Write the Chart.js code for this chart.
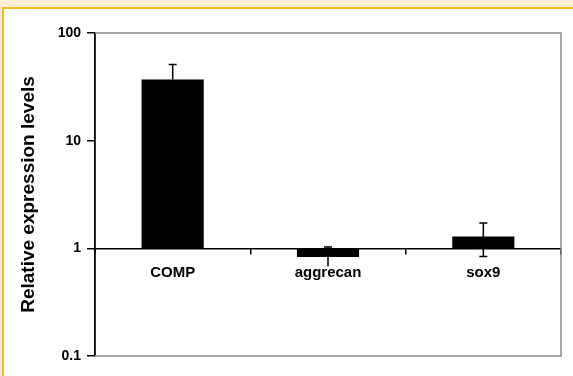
<!DOCTYPE html>
<html>
<head>
<meta charset="utf-8">
<script src="https://cdn.jsdelivr.net/npm/chart.js@4.4.1/dist/chart.umd.min.js"></script>
<style>
  html, body { margin: 0; padding: 0; }
  body { width: 573px; height: 376px; background: #fcefd4; position: relative; overflow: hidden; }
  #frame { position: absolute; left: 2px; top: 7px; width: 571px; height: 369px;
           border-top: 2px solid #f4bd1c; border-left: 2px solid #f4bd1c; background: #fff; }
  #chart { position: absolute; left: 0; top: 0; }
</style>
</head>
<body>
<div id="frame"></div>
<canvas id="chart" width="573" height="376"></canvas>
<script>
// Gene names along the x axis
const genes = ['COMP', 'aggrecan', 'sox9'];
// Mean relative expression (bars start at 1)
const expression = [37, 0.83, 1.29];
// Error bar ends
const errorLow = [37, 0.68, 0.84];
const errorHigh = [51, 1.03, 1.72];
// Y axis ticks (log scale)
const yTicks = [0.1, 1, 10, 100];

const fontFamily = '"Liberation Sans", Arial, sans-serif';

// Gray frame round the plot area (top, right, bottom)
const framePlugin = {
  id: 'frame',
  beforeDatasetsDraw(chart) {
    const { ctx, chartArea: a } = chart;
    ctx.save();
    ctx.strokeStyle = '#8c8c8c';
    ctx.lineWidth = 1.5;
    ctx.beginPath();
    ctx.moveTo(a.left, a.top);
    ctx.lineTo(a.right, a.top);
    ctx.lineTo(a.right, a.bottom);
    ctx.lineTo(a.left, a.bottom);
    ctx.stroke();
    ctx.restore();
  }
};

// Error bars drawn from the arrays through the y scale
const errorBarPlugin = {
  id: 'errorBars',
  afterDatasetsDraw(chart) {
    const { ctx } = chart;
    const y = chart.scales.y;
    const meta = chart.getDatasetMeta(0);
    ctx.save();
    ctx.strokeStyle = '#000';
    ctx.lineWidth = 1.5;
    meta.data.forEach((bar, i) => {
      const x = bar.x;
      const yLo = y.getPixelForValue(errorLow[i]);
      const yHi = y.getPixelForValue(errorHigh[i]);
      ctx.beginPath();
      ctx.moveTo(x, yLo);
      ctx.lineTo(x, yHi);
      ctx.moveTo(x - 4, yHi);
      ctx.lineTo(x + 4, yHi);
      if (errorLow[i] !== expression[i] && i !== 1) {
        ctx.moveTo(x - 4, yLo);
        ctx.lineTo(x + 4, yLo);
      }
      ctx.stroke();
    });
    ctx.restore();
  }
};

new Chart(document.getElementById('chart'), {
  type: 'bar',
  data: {
    labels: genes,
    datasets: [{
      data: expression.map(v => [1, v]),
      backgroundColor: '#000',
      borderWidth: 0,
      barPercentage: 0.4,
      categoryPercentage: 1
    }]
  },
  options: {
    responsive: false,
    animation: false,
    layout: { padding: { top: 33, bottom: 20, right: 12, left: 0 } },
    plugins: {
      legend: { display: false },
      tooltip: { enabled: false }
    },
    scales: {
      x: {
        type: 'category',
        position: { y: 1 },
        offset: true,
        grid: { drawOnChartArea: false, drawTicks: true, tickLength: 5, color: '#000', offset: true, lineWidth: 1.5 },
        border: { color: '#000', width: 1.5 },
        ticks: { color: '#000', font: { family: fontFamily, size: 15, weight: 'bold' }, padding: 11 }
      },
      y: {
        type: 'logarithmic',
        min: 0.1,
        max: 100,
        afterBuildTicks: s => { s.ticks = yTicks.map(v => ({ value: v })); },
        afterFit: s => { s.width = 95; },
        grid: { drawOnChartArea: false, drawTicks: true, tickLength: 8, color: '#000', lineWidth: 1.5 },
        border: { color: '#000', width: 1.8 },
        ticks: {
          color: '#000',
          padding: 6,
          font: { family: fontFamily, size: 14, weight: 'bold' },
          callback: v => String(v)
        },
        title: {
          display: true,
          text: 'Relative expression levels',
          color: '#000',
          font: { family: fontFamily, size: 19, weight: 'bold' },
          padding: { top: 17, bottom: 0 }
        }
      }
    }
  },
  plugins: [framePlugin, errorBarPlugin]
});
</script>
</body>
</html>
